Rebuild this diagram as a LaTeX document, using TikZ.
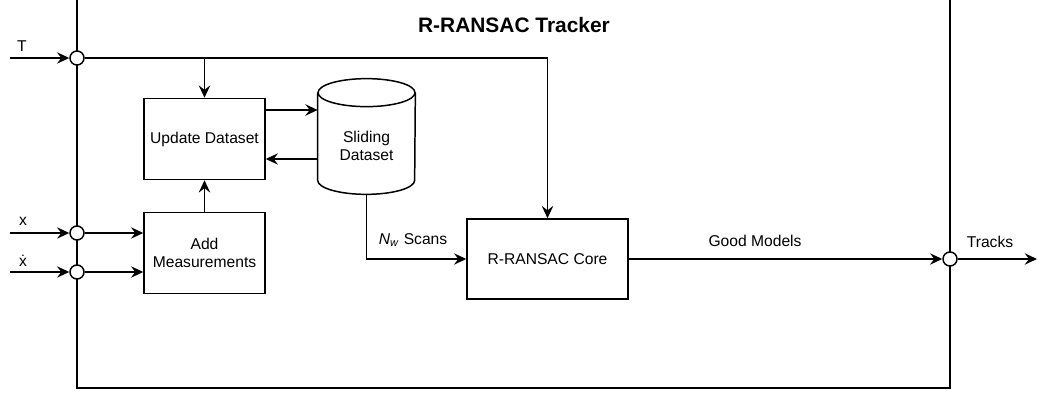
\documentclass[tikz,border=0pt]{standalone}
\usepackage{fontspec}
\setmainfont{Liberation Sans}
\usetikzlibrary{arrows.meta}

\begin{document}
\begin{tikzpicture}
\tikzstyle{block}=[draw=black, line width=0.85pt, minimum width=2.42cm, minimum height=1.62cm, align=center, font=\fontsize{8.9}{10.5}\selectfont]
\tikzstyle{junction}=[draw=black, fill=white, circle, line width=0.85pt, minimum size=0.28cm, inner sep=0pt]
\tikzstyle{label}=[font=\fontsize{8.9}{10.5}\selectfont]
\tikzstyle{wire}=[line width=0.85pt, >={Stealth[length=7pt,width=6.5pt,inset=2.5pt]}]

\useasboundingbox (0,0) rectangle (20.76,7.86);

% outer frame
\draw[line width=0.85pt] (1.54,7.86) -- (1.54,0.10) -- (19.00,0.10) -- (19.00,7.86);

\node[font=\fontsize{11.9}{14}\bfseries] (title) at (10.28,7.36) {R-RANSAC Tracker};

\node[block] (update) at (4.09,5.08) {Update Dataset};
\node[block] (addmeas) at (4.09,2.80) {Add\\Measurements};
\node[block, minimum width=3.22cm, minimum height=1.60cm] (core) at (10.95,2.68) {R-RANSAC Core};
\node[minimum width=1.94cm, minimum height=2.30cm, inner sep=0pt] (dataset) at (7.33,5.13) {};
\node[label, align=center] (datasetText) at ([yshift=-0.19cm]dataset.center) {Sliding\\Dataset};

% cylinder
\draw[line width=0.85pt] ([yshift=-0.28cm]dataset.north west) -- ([yshift=0.28cm]dataset.south west)
  arc[start angle=180, end angle=360, x radius=0.97cm, y radius=0.28cm]
  -- ([yshift=-0.28cm]dataset.north east);
\draw[line width=0.85pt] ([yshift=-0.28cm]dataset.north) ellipse[x radius=0.97cm, y radius=0.28cm];

% inputs and output
\coordinate (tIn) at (0.20,6.70);
\coordinate (xIn) at (0.20,3.20);
\coordinate (xdIn) at (0.20,2.42);
\coordinate (tracksOut) at (20.74,2.68);

\node[junction] (tJoin) at (1.54,6.70) {};
\node[junction] (xJoin) at (1.54,3.20) {};
\node[junction] (xdJoin) at (1.54,2.42) {};
\node[junction] (tracksJoin) at (19.00,2.68) {};

\draw[->,wire] (tIn) -- (tJoin);
\draw[->,wire] (xIn) -- (xJoin);
\draw[->,wire] (xdIn) -- (xdJoin);
\draw[->,wire] (tracksJoin) -- (tracksOut);

\draw[->,wire] (tJoin) -| (core.north);
\draw[->,wire] (tJoin -| update) -- (update.north);
\draw[->,wire] (xJoin) -- (xJoin -| addmeas.west);
\draw[->,wire] (xdJoin) -- (xdJoin -| addmeas.west);
\draw[->,wire] (addmeas) -- (update);

\draw[->,wire] ([yshift=0.58cm]update.east) -- ([yshift=0.58cm]update.east -| dataset.west);
\draw[->,wire] ([yshift=-0.40cm]update.east -| dataset.west) -- ([yshift=-0.40cm]update.east);

\draw[->,wire] (dataset.south) |- (core.west);
\draw[->,wire] (core) -- (tracksJoin);

\node[label] (tLabel) at (0.44,6.94) {T};
\node[label] (xLabel) at (0.46,3.44) {x};
\node[label] (xdLabel) at (0.46,2.64) {\.{x}};
\node[label] (scansLabel) at (8.26,3.06) {\textit{N}\textsubscript{\textit{w}} Scans};
\node[label] (modelsLabel) at (15.10,3.04) {Good Models};
\node[label] (tracksLabel) at (19.80,3.02) {Tracks};

\end{tikzpicture}
\end{document}
